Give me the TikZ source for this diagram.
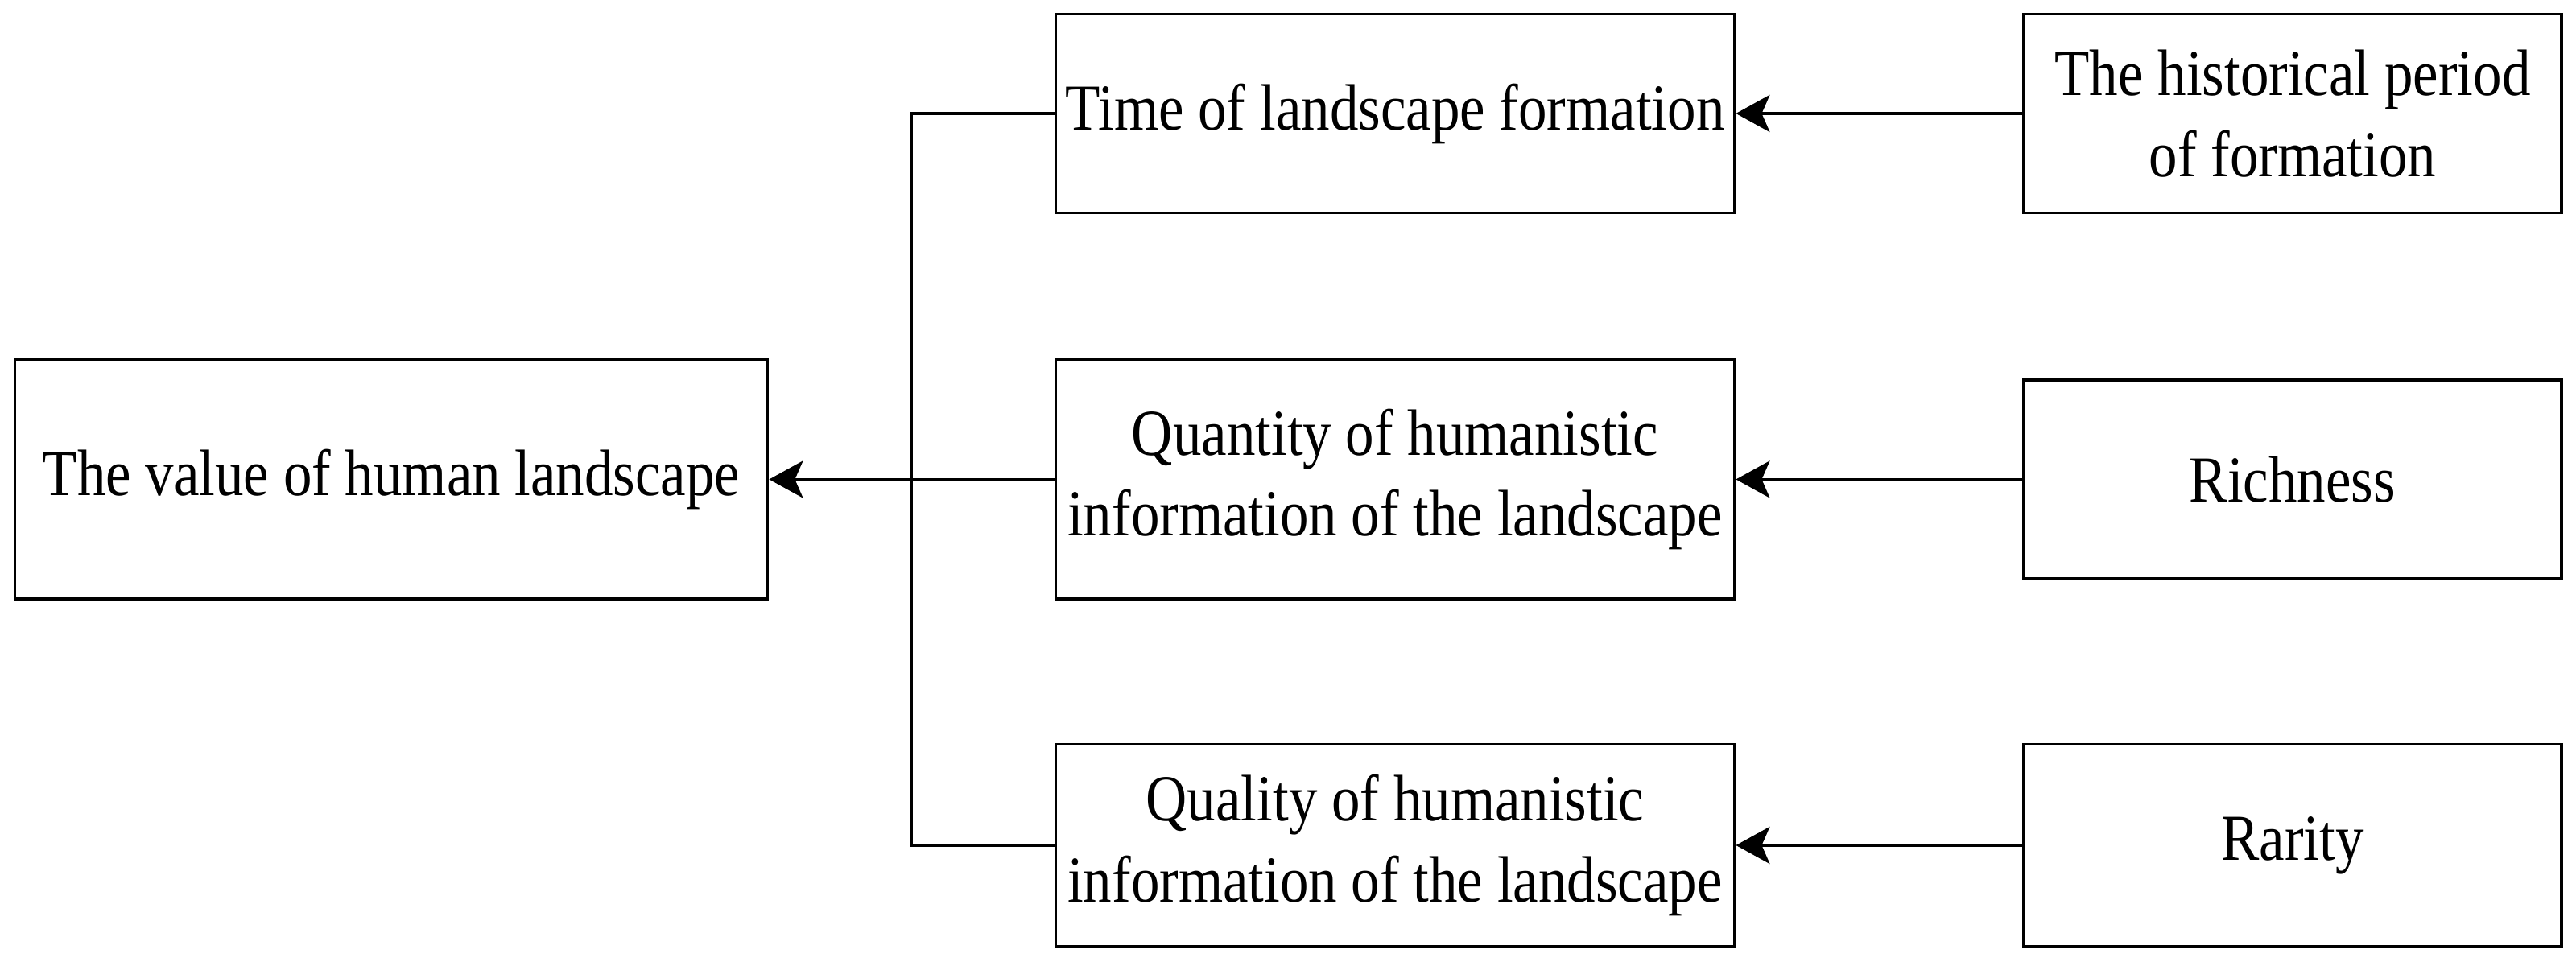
\documentclass[tikz,border=0pt]{standalone}
\usepackage{fontspec}
\setmainfont{Liberation Serif}[FakeStretch=0.87]
\usepackage{tikz}
\usetikzlibrary{positioning,calc,arrows.meta}

\begin{document}
\begin{tikzpicture}[
    box/.style={draw, line width=1.1pt, align=center, inner sep=0pt,
        font=\fontsize{23.2}{28.6}\selectfont},
    link/.style={line width=1.1pt},
    arr/.style={link, -{Stealth[length=4.2mm, width=4.6mm, inset=1mm]}}
]
    \useasboundingbox (0,0) rectangle (32,11.9);

    % Target
    \node[box, minimum width=9.35cm, minimum height=2.97cm] (value) at (4.86,5.945) {The value of human landscape};

    % Factors
    \node[box, minimum width=8.43cm, minimum height=2.47cm] (timeF) at (17.33,10.49) {Time of landscape formation};
    \node[box, minimum width=8.43cm, minimum height=2.97cm] (quantity) at (17.33,5.945) {Quantity of humanistic\\information of the landscape};
    \node[box, minimum width=8.43cm, minimum height=2.51cm] (quality) at (17.33,1.40) {Quality of humanistic\\information of the landscape};

    % Indicators
    \node[box, minimum width=6.68cm, minimum height=2.47cm] (period) at (28.48,10.49) {The historical period\\of formation};
    \node[box, minimum width=6.68cm, minimum height=2.47cm] (richness) at (28.48,5.945) {Richness};
    \node[box, minimum width=6.68cm, minimum height=2.51cm] (rarity) at (28.48,1.40) {Rarity};

    % Connectors
    \coordinate (trunk) at (11.32,5.945);
    \draw[link] (timeF.west) -| (trunk) |- (quality.west);
    \draw[arr] (quantity.west) -- (value.east);
    \draw[arr] (period.west) -- (timeF.east);
    \draw[arr] (richness.west) -- (quantity.east);
    \draw[arr] (rarity.west) -- (quality.east);
\end{tikzpicture}
\end{document}
